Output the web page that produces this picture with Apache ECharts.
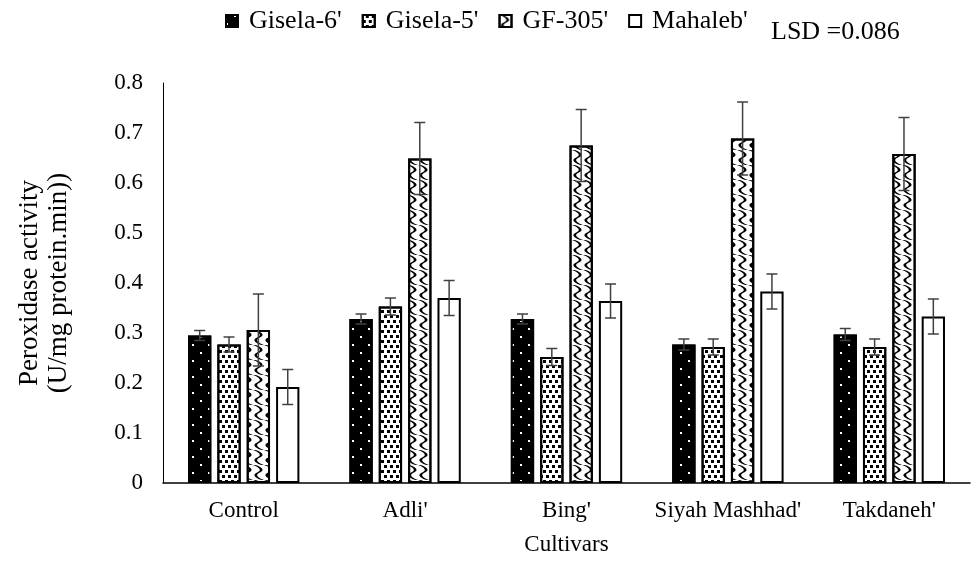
<!DOCTYPE html>
<html>
<head>
<meta charset="utf-8">
<script src="https://cdn.jsdelivr.net/npm/echarts@6/dist/echarts.min.js"></script>
<style>
  html, body { margin: 0; padding: 0; background: #fff; }
  #chart { width: 971px; height: 561px; }
</style>
</head>
<body>
<div id="chart"></div>
<script>
// categories and series
const cultivars = ['Control', "Adli'", "Bing'", "Siyah Mashhad'", "Takdaneh'"];
const rootstocks = ["Gisela-6'", "Gisela-5'", "GF-305'", "Mahaleb'"];

const gisela6 = [0.295, 0.328, 0.328, 0.277, 0.297];
const gisela6Err = [0.010, 0.010, 0.010, 0.011, 0.012];
const gisela5 = [0.277, 0.353, 0.252, 0.272, 0.272];
const gisela5Err = [0.015, 0.017, 0.017, 0.016, 0.016];
const gf305 = [0.306, 0.649, 0.675, 0.689, 0.658];
const gf305Err = [0.072, 0.072, 0.072, 0.073, 0.073];
const mahaleb = [0.192, 0.370, 0.364, 0.383, 0.333];
const mahalebErr = [0.035, 0.035, 0.034, 0.035, 0.035];

const yTicks = [0, 0.1, 0.2, 0.3, 0.4, 0.5, 0.6, 0.7, 0.8];

const FONT = "'Liberation Serif', serif";
const CAT_GAP = 0.31;   // barCategoryGap
const BAR_GAP = 0.26;   // barGap

// hatch-like fills for each rootstock
const decals = [
  // black with white dots
  { symbol: 'rect', symbolSize: 1, color: '#fff', dashArrayX: [[2, 14], [0, 8, 2, 6]], dashArrayY: [2, 6] },
  // white with black squares
  { symbol: 'rect', symbolSize: 1, color: '#000', dashArrayX: [[3, 3], [0, 3, 3, 0]], dashArrayY: [3, 2] },
  // white with wavy lines
  {
    symbol: 'path://M0,0 C60,20 60,40 30,50 C0,60 0,80 60,100 L80,100 C20,80 20,60 50,50 C80,40 80,20 20,0 Z',
    symbolSize: 1, symbolKeepAspect: false, color: '#000', dashArrayX: [11, 0], dashArrayY: [15, 0]
  },
  null
];
const fills = ['#000', '#fff', '#fff', '#fff'];
const values = [gisela6, gisela5, gf305, mahaleb];
const errors = [gisela6Err, gisela5Err, gf305Err, mahalebErr];

const chart = echarts.init(document.getElementById('chart'));

const barSeries = rootstocks.map((name, i) => ({
  name: name,
  type: 'bar',
  data: values[i],
  barGap: (BAR_GAP * 100) + '%',
  barCategoryGap: (CAT_GAP * 100) + '%',
  itemStyle: {
    color: fills[i],
    borderColor: '#000',
    borderWidth: 2,
    decal: decals[i] || undefined
  }
}));

// error bar data: [category, series, value, error]
const errData = [];
values.forEach((vals, s) => {
  vals.forEach((v, c) => errData.push([c, s, v, errors[s][c]]));
});

const option = {
  animation: false,
  backgroundColor: '#fff',
  textStyle: { fontFamily: FONT, color: '#000' },
  legend: {
    data: rootstocks,
    left: 220,
    top: 3,
    icon: 'rect',
    itemWidth: 12,
    itemHeight: 12,
    itemGap: 20,
    formatter: name => '{t|' + name + '}',
    textStyle: {
      fontFamily: FONT, fontSize: 26, color: '#000',
      rich: { t: { fontFamily: FONT, fontSize: 26, color: '#000', padding: [0, 0, 0, 6] } }
    }
  },
  graphic: [{
    type: 'text',
    left: 771,
    top: 19,
    style: { text: 'LSD =0.086', fontFamily: FONT, fontSize: 26, fill: '#000' }
  }],
  grid: { left: 163, right: 1, top: 83, bottom: 76 },
  xAxis: {
    type: 'category',
    data: cultivars,
    name: 'Cultivars',
    nameLocation: 'middle',
    nameGap: 50,
    nameTextStyle: { fontFamily: FONT, fontSize: 23, color: '#000' },
    axisLine: { lineStyle: { color: '#000', width: 1.5 } },
    axisTick: { show: false },
    axisLabel: { interval: 0, fontFamily: FONT, fontSize: 23, color: '#000', margin: 16 }
  },
  yAxis: {
    type: 'value',
    min: yTicks[0],
    max: yTicks[yTicks.length - 1],
    interval: 0.1,
    name: 'Peroxidase activity\n(U/mg protein.min))',
    nameLocation: 'middle',
    nameGap: 90,
    nameTextStyle: { fontFamily: FONT, fontSize: 27, color: '#000', lineHeight: 29 },
    axisLine: { show: true, lineStyle: { color: '#000', width: 1 } },
    axisTick: { show: false },
    splitLine: { show: false },
    axisLabel: {
      fontFamily: FONT, fontSize: 23, color: '#000', margin: 20,
      formatter: v => String(Math.round(v * 10) / 10)
    }
  },
  series: barSeries.concat([{
    type: 'custom',
    name: 'err',
    data: errData,
    encode: { x: 0, y: 2 },
    z: 10,
    silent: true,
    renderItem: function (params, api) {
      const c = api.value(0), s = api.value(1), v = api.value(2), e = api.value(3);
      const catW = api.size([1, 0])[0];
      const usable = catW * (1 - CAT_GAP);
      const bw = usable / (4 + 3 * BAR_GAP);
      const offset = -usable / 2 + s * bw * (1 + BAR_GAP) + bw / 2;
      const hi = api.coord([c, v + e]);
      const lo = api.coord([c, v - e]);
      const x = hi[0] + offset;
      const cap = 5.5;
      const style = { stroke: '#404040', lineWidth: 1.5 };
      return {
        type: 'group',
        children: [
          { type: 'line', shape: { x1: x, y1: hi[1], x2: x, y2: lo[1] }, style: style },
          { type: 'line', shape: { x1: x - cap, y1: hi[1], x2: x + cap, y2: hi[1] }, style: style },
          { type: 'line', shape: { x1: x - cap, y1: lo[1], x2: x + cap, y2: lo[1] }, style: style }
        ]
      };
    }
  }])
};

chart.setOption(option);
</script>
</body>
</html>
